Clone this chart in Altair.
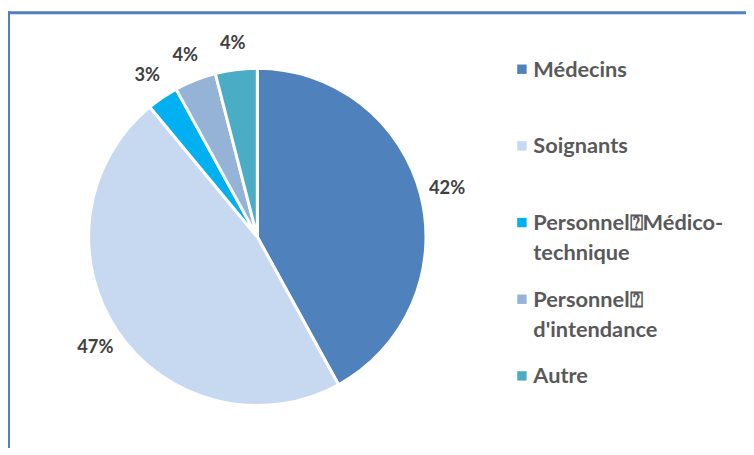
import altair as alt
import pandas as pd

categories = ["Médecins", "Soignants", "Personnel⍰Médico-\ntechnique", "Personnel⍰\nd'intendance", "Autre"]
values = [42, 47, 3, 4, 4]
labels = ["42%", "47%", "3%", "4%", "4%"]
colors = ["#4F81BD", "#C6D9F1", "#00B0F0", "#95B3D7", "#4BACC6"]

df = pd.DataFrame({"cat": categories, "val": values, "lab": labels, "idx": list(range(len(categories)))})

color = alt.Color("cat:N", scale=alt.Scale(domain=categories, range=colors), legend=None)
theta = alt.Theta("val:Q", stack=True)
order = alt.Order("idx:Q")

CX, CY = 252, 229

pie = alt.Chart(df).mark_arc(outerRadius=170.5, stroke="white", strokeWidth=3).encode(
    theta=theta, color=color, order=order,
    x=alt.value(CX), y=alt.value(CY),
)

pct = alt.Chart(df).mark_text(font="Lato", fontWeight="bold", fontSize=18.5, color="#404040").encode(
    theta=theta, order=order, text="lab:N",
    radius=alt.value(198),
    x=alt.value(CX), y=alt.value(CY),
)

ly = alt.Y("cat:N", scale=alt.Scale(domain=categories, range=[67, 377], type="point", padding=0), axis=None)

leg_sq = alt.Chart(df).mark_square(size=90, opacity=1, yOffset=-7.5).encode(
    x=alt.value(519.5), y=ly, color=color,
)
leg_txt = alt.Chart(df).mark_text(font="Lato", fontWeight="bold", fontSize=22, color="#595959",
                                  align="left", baseline="alphabetic", lineBreak="\n", lineHeight=30.5).encode(
    x=alt.value(531), y=ly, text="cat:N",
)

frame_top = alt.Chart(df.head(1)).mark_rule(color="#4F81BD", strokeWidth=3).encode(
    x=alt.value(0), x2=alt.value(760), y=alt.value(2.5)
)
frame_left = alt.Chart(df.head(1)).mark_rule(color="#4F81BD", strokeWidth=3).encode(
    x=alt.value(0.5), y=alt.value(1), y2=alt.value(460)
)

chart = alt.layer(pie, pct, leg_sq, leg_txt, frame_top, frame_left).properties(
    width=746, height=440, autosize=alt.AutoSizeParams(type="none"), padding=0
).configure_view(stroke=None)

chart.save("out.html", embed_options={"renderer": "svg", "actions": False})
